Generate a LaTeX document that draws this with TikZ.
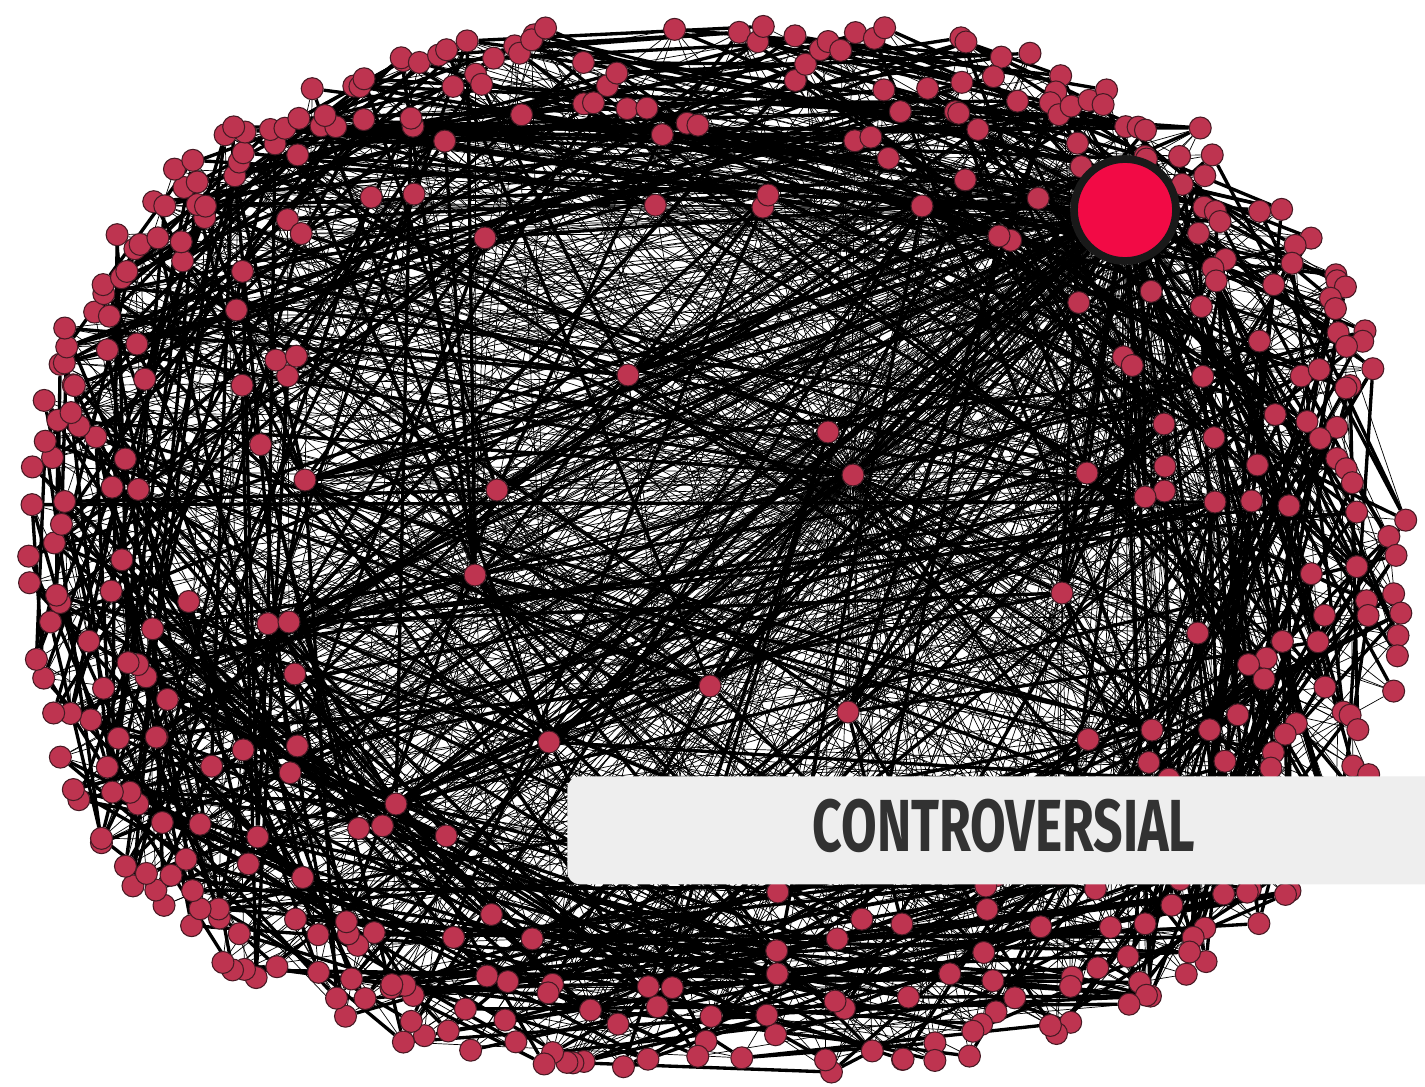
\documentclass[tikz,border=0pt]{standalone}
\usepackage{fontspec}
\newfontfamily\labfont{Fira Sans}
\usetikzlibrary{backgrounds}
\definecolor{nodered}{RGB}{190,52,80}
\definecolor{noderim}{RGB}{70,25,35}
\definecolor{bigred}{RGB}{242,10,69}
\definecolor{boxgray}{RGB}{238,238,238}
\definecolor{txtgray}{RGB}{50,50,50}
\pgfdeclarelayer{bgl}
\pgfdeclarelayer{edges}
\pgfsetlayers{bgl,edges,main}
\begin{document}
\begin{tikzpicture}[x=0.02cm,y=-0.02cm,
  pnode/.style={circle,fill=nodered,draw=noderim,line width=0.6pt,minimum size=0.44cm,inner sep=0pt},
  thickedge/.style={line width=1.9pt,black},
  thinedge/.style={line width=0.4pt,black},
  bignode/.style={circle,fill=bigred,draw=black!90,line width=4.4pt,minimum size=2.04cm,inner sep=0pt},
  labelbox/.style={fill=boxgray,rounded corners=7pt,minimum width=17.6cm,minimum height=2.16cm,inner sep=0pt,anchor=north west},
  labeltext/.style={text=txtgray,font=\labfont\bfseries\fontsize{42}{46}\selectfont,inner sep=0pt}]
\useasboundingbox (0,0) rectangle (1425,1087);
\begin{pgfonlayer}{bgl}
\fill[white] (0,0) rectangle (1425,1087);
\end{pgfonlayer}
\pgfmathsetseed{4242}
\def\N{430}
% peripheral nodes on a rounded (superelliptic) band
\foreach \i in {1,...,430}{
  \pgfmathsetmacro\ang{\i/430*360+0.7*rand}
  \pgfmathsetmacro\rr{1-0.42*rnd*rnd}
  \pgfmathsetmacro\cc{cos(\ang)}
  \pgfmathsetmacro\ss{sin(\ang)}
  \pgfmathsetmacro\px{716+690*\rr*\cc/(abs(\cc)+0.0001)*(abs(\cc)+0.0001)^0.82}
  \pgfmathsetmacro\py{548+528*\rr*\ss/(abs(\ss)+0.0001)*(abs(\ss)+0.0001)^0.82}
  \node[pnode] (n\i) at (\px,\py) {};
}
% inner hub nodes
\foreach \hx/\hy [count=\h] in {853/475,828/432,628/375,497/490,475/575,710/686,848/712,549/742,1062/593,1087/473,1145/497,1164/424,1215/502,396/804,305/480,289/622,1152/730,999/236,922/206,768/195}{
  \node[pnode] (h\h) at (\hx,\hy) {};
}
\node[bignode] (B) at (1125,210) {};
\begin{pgfonlayer}{edges}
% thick edges
\foreach \i in {1,...,430}{
  \pgfmathrandominteger{\k}{4}{110}
  \pgfmathrandominteger{\s}{0}{1}
  \pgfmathtruncatemacro\j{mod(\i-1+(2*\s-1)*\k+\N,\N)+1}
  \draw[thickedge] (n\i) -- (n\j);
  \pgfmathrandominteger{\t}{0}{9}
  \ifnum\t<4
    \pgfmathrandominteger{\h}{1}{20}
    \draw[thickedge] (n\i) -- (h\h);
  \fi
}
% thin edges from big node
\foreach \i in {1,3,...,429}{
  \draw[thinedge] (B) -- (n\i);
}
% thin edges from hubs and random chords
\foreach \i in {1,...,430}{
  \pgfmathrandominteger{\h}{1}{20}
  \draw[thinedge] (h\h) -- (n\i);
  \pgfmathrandominteger{\j}{1}{430}
  \draw[thinedge] (n\i) -- (n\j);
}
\foreach \i in {2,5,...,430}{
  \draw[thinedge] (h1) -- (n\i);
}
\foreach \h in {1,...,20}{
  \draw[thickedge] (B) -- (h\h);
}
\end{pgfonlayer}
\node[labelbox] (box) at (567,776) {};
\node[labeltext] (lab) at (1004,826) {\scalebox{0.70}[1]{CONTROVERSIAL}};
\end{tikzpicture}
\end{document}
